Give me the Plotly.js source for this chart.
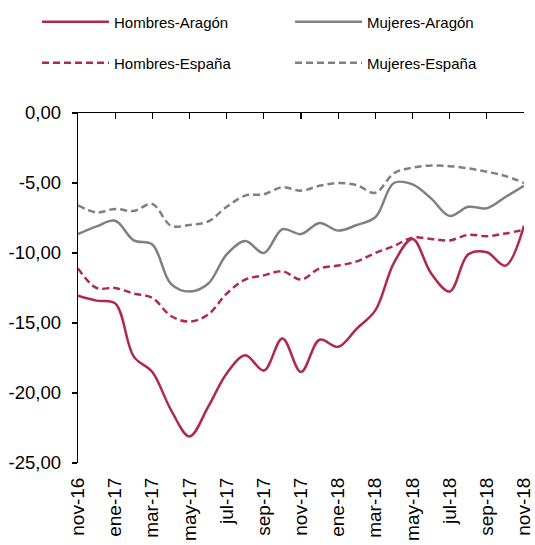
<!DOCTYPE html>
<html><head><meta charset="utf-8">
<script src="https://cdn.plot.ly/plotly-3.0.1.min.js"></script>
<style>html,body{margin:0;padding:0;background:#fff}#chart{width:535px;height:545px}</style>
</head><body><div id="chart"></div>
<script>
const months = ["nov-16","dic-16","ene-17","feb-17","mar-17","abr-17","may-17","jun-17","jul-17","ago-17","sep-17","oct-17","nov-17","dic-17","ene-18","feb-18","mar-18","abr-18","may-18","jun-18","jul-18","ago-18","sep-18","oct-18","nov-18"];
const hombresAragon = [-13.05,-13.4,-13.6,-17.4,-18.5,-21.2,-23.1,-21.0,-18.6,-17.3,-18.4,-16.1,-18.5,-16.2,-16.7,-15.4,-14.1,-10.7,-9.0,-11.45,-12.75,-10.1,-9.95,-10.9,-8.05];
const mujeresAragon = [-8.65,-8.1,-7.7,-9.1,-9.4,-12.2,-12.75,-12.2,-10.1,-9.15,-10.0,-8.3,-8.65,-7.85,-8.4,-8.0,-7.45,-5.0,-5.1,-6.1,-7.35,-6.7,-6.8,-6.0,-5.2];
const hombresEspana = [-11.1,-12.5,-12.5,-12.9,-13.2,-14.5,-14.9,-14.4,-12.9,-11.9,-11.6,-11.3,-11.9,-11.1,-10.9,-10.6,-10.0,-9.5,-8.9,-9.0,-9.1,-8.7,-8.8,-8.6,-8.35];
const mujeresEspana = [-6.6,-7.1,-6.85,-7.0,-6.5,-8.05,-8.0,-7.75,-6.7,-5.9,-5.8,-5.3,-5.55,-5.2,-5.0,-5.15,-5.7,-4.3,-3.9,-3.75,-3.8,-3.95,-4.2,-4.5,-5.0];
const tickMonths = months.filter((m,i)=>i%2===0);
const yTicks = [0,-5,-10,-15,-20,-25];
const yTickText = ["0,00","-5,00","-10,00","-15,00","-20,00","-25,00"];

const RED = "#B0284C", GRAY = "#808080";
const FONT = "Arial, 'Liberation Sans', sans-serif";
const line = (c, dash) => ({color:c, width:2.5, dash:dash, shape:"spline", smoothing:1});

const traces = [
  {x:months, y:hombresAragon, name:"Hombres-Aragón", mode:"lines", line:line(RED,"solid"), legend:"legend"},
  {x:months, y:mujeresAragon, name:"Mujeres-Aragón", mode:"lines", line:line(GRAY,"solid"), legend:"legend2"},
  {x:months, y:hombresEspana, name:"Hombres-España", mode:"lines", line:line(RED,"7px,4px"), legend:"legend3"},
  {x:months, y:mujeresEspana, name:"Mujeres-España", mode:"lines", line:line(GRAY,"7px,4px"), legend:"legend4"},
  {x:months, y:mujeresEspana, xaxis:"x2", mode:"lines", line:{width:0}, showlegend:false, hoverinfo:"skip", opacity:0}
];

const legBase = {orientation:"h", xref:"container", yref:"container", xanchor:"left", yanchor:"middle",
  itemwidth:67, font:{family:FONT, size:15, color:"#000"},
  bgcolor:"rgba(0,0,0,0)", borderwidth:0};
const leg = (px, py) => Object.assign({}, legBase, {x:px/535, y:1-py/545});

const layout = {
  width:535, height:545,
  margin:{l:78, r:10.6, t:113, b:82},
  paper_bgcolor:"#fff", plot_bgcolor:"#fff",
  font:{family:FONT, size:19, color:"#000"},
  showlegend:true,
  legend:leg(37,22),
  legend2:leg(290,22),
  legend3:leg(37,63),
  legend4:leg(290,63),
  xaxis:{type:"category", range:[0,24], showline:false, showgrid:false, zeroline:false,
    ticks:"outside", ticklen:6, tickcolor:"rgba(0,0,0,0)",
    tickvals:tickMonths, ticktext:tickMonths, tickangle:-90,
    tickfont:{family:FONT, size:19, color:"#000"}, fixedrange:true},
  xaxis2:{type:"category", overlaying:"x", side:"top", range:[0,24], showline:true, linecolor:"#000", linewidth:1.3,
    showgrid:false, zeroline:false, ticks:"inside", ticklen:6, tickcolor:"#000", tickwidth:1.3,
    tickvals:tickMonths, showticklabels:false},
  yaxis:{range:[-25,0], tickvals:yTicks, ticktext:yTickText, showline:true, linecolor:"#000", linewidth:1.3,
    ticks:"outside", ticklen:5, tickcolor:"#000", tickwidth:1.3, showgrid:false, zeroline:false,
    ticklabelstandoff:7, tickfont:{family:FONT, size:18.5, color:"#000"}}
};
Plotly.newPlot("chart", traces, layout, {staticPlot:true, displayModeBar:false});
</script></body></html>
